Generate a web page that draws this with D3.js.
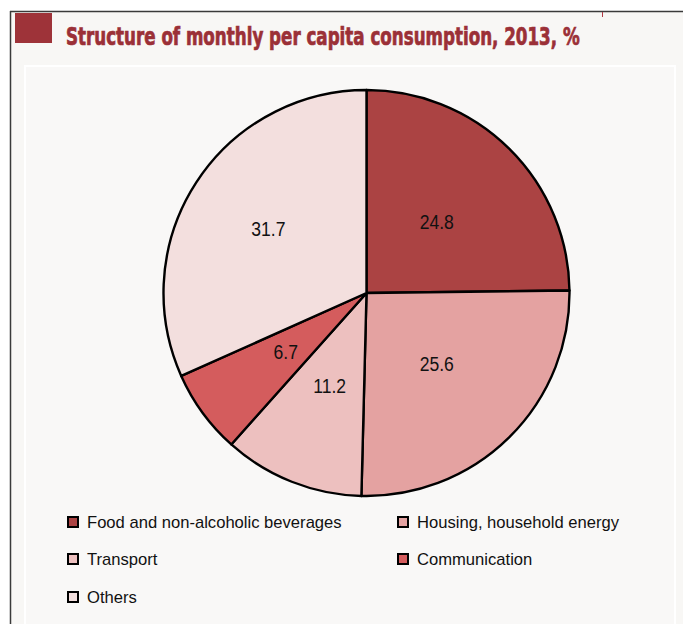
<!DOCTYPE html>
<html><head><meta charset="utf-8">
<script src="https://cdn.jsdelivr.net/npm/d3@7"></script>
<style>html,body{margin:0;padding:0;background:#fff;}svg{display:block;}</style>
</head><body>
<script>
const categories = ["Food and non-alcoholic beverages","Housing, household energy","Transport","Communication","Others"];
const values = [24.8, 25.6, 11.2, 6.7, 31.7];
const labels = ["24.8","25.6","11.2","6.7","31.7"];
const colors = ["#ab4343","#e4a2a1","#edc0bf","#d45c5d","#f3dfde"];
const title = "Structure of monthly per capita consumption, 2013, %";

const W = 683, H = 624;
const svg = d3.select("body").append("svg").attr("width", W).attr("height", H);

// frame
svg.append("rect").attr("x", 10).attr("y", 11).attr("width", W - 10).attr("height", H - 11).attr("fill", "#f8f7f5");
svg.append("line").attr("x1", 10).attr("x2", W).attr("y1", 11.5).attr("y2", 11.5).attr("stroke", "#3a3a3a").attr("stroke-width", 1.5);
svg.append("line").attr("x1", 10.5).attr("x2", 10.5).attr("y1", 11).attr("y2", H).attr("stroke", "#3a3a3a").attr("stroke-width", 1.5);
svg.append("line").attr("x1", 602.5).attr("x2", 602.5).attr("y1", 12).attr("y2", 17).attr("stroke", "#b03a44").attr("stroke-width", 1);
svg.append("rect").attr("x", 25).attr("y", 66).attr("width", 650).attr("height", H).attr("fill", "#f9f8f7").attr("stroke", "#ffffff").attr("stroke-width", 2);

// title
svg.append("rect").attr("x", 15).attr("y", 13).attr("width", 37).attr("height", 30).attr("fill", "#9e3339");
const tt = svg.append("text").attr("x", 0).attr("y", 0).text(title)
  .attr("font-family", "'DejaVu Sans Condensed','DejaVu Sans',sans-serif").attr("font-weight", "bold")
  .attr("font-stretch", "condensed").attr("font-size", 24).attr("fill", "#9b3037")
  .attr("stroke", "#9b3037").attr("stroke-width", 0.7);
const tw = tt.node().getComputedTextLength();
tt.attr("transform", `translate(66,45) scale(${514 / tw},1)`);

// pie
const cx = 366.5, cy = 293, R = 203;
const pie = d3.pie().sort(null).value(d => d)(values);
const arc = d3.arc().innerRadius(0).outerRadius(R);
const g = svg.append("g").attr("transform", `translate(${cx},${cy})`);
g.selectAll("path").data(pie).join("path")
  .attr("d", arc).attr("fill", (d, i) => colors[i])
  .attr("stroke", "#000").attr("stroke-width", 2.4).attr("stroke-linejoin", "round");
g.selectAll("text").data(pie).join("text")
  .attr("transform", (d, i) => {
    const r = i === 4 ? 117 : 100;
    const c = d3.arc().innerRadius(r).outerRadius(r).centroid(d);
    return `translate(${c[0]},${c[1]}) scale(0.9,1)`;
  })
  .attr("text-anchor", "middle").attr("dy", "0.36em")
  .attr("font-family", "'Liberation Sans',Arial,sans-serif").attr("font-size", 19.5)
  .attr("fill", "#111").text((d, i) => labels[i]);

// legend
const legPos = [[73, 522], [403, 522], [73, 559], [403, 559], [73, 597]];
const lg = svg.append("g");
categories.forEach((c, i) => {
  const [x, y] = legPos[i];
  lg.append("rect").attr("x", x - 5).attr("y", y - 5).attr("width", 10).attr("height", 10)
    .attr("fill", colors[i]).attr("stroke", "#000").attr("stroke-width", 2);
  lg.append("text").attr("x", x + 14).attr("y", y).attr("dy", "0.36em").text(c)
    .attr("font-family", "'Liberation Sans',Arial,sans-serif").attr("font-size", 16.6).attr("fill", "#111");
});
</script>
</body></html>
